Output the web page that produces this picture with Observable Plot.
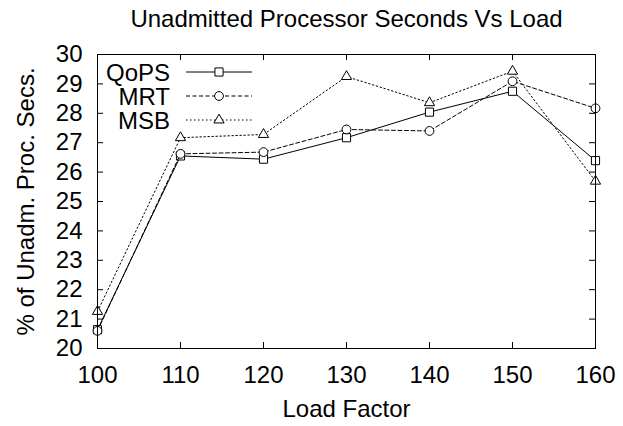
<!DOCTYPE html>
<html><head><meta charset="utf-8">
<script src="https://cdn.jsdelivr.net/npm/d3@7"></script>
<script src="https://cdn.jsdelivr.net/npm/@observablehq/plot@0.6"></script>
<style>body{margin:0;background:#fff}#chart{width:623px;height:426px}</style>
</head><body><div id="chart"></div>
<script>
const loads = [100, 110, 120, 130, 140, 150, 160];
const qops = [20.64, 26.55, 26.44, 27.17, 28.04, 28.75, 26.39];
const mrt  = [20.60, 26.62, 26.68, 27.45, 27.40, 29.09, 28.17];
const msb  = [21.26, 27.17, 27.28, 29.25, 28.36, 29.43, 25.69];
const seriesNames = ["QoPS", "MRT", "MSB"];
const xTicks = [100, 110, 120, 130, 140, 150, 160];
const yTicks = [20, 21, 22, 23, 24, 25, 26, 27, 28, 29, 30];
const titleText = "Unadmitted Processor Seconds Vs Load";
const xLabel = "Load Factor";
const yLabel = "% of Unadm. Proc. Secs.";

const styles = {
  QoPS: {dash: null, symbol: "square", r: 4.6},
  MRT: {dash: "4,2.5", symbol: "circle", r: 4.4},
  MSB: {dash: "1.5,2.5", symbol: "triangle", r: 3.8}
};
const valuesBy = {QoPS: qops, MRT: mrt, MSB: msb};
const rows = seriesNames.flatMap(s => loads.map((x, i) => ({series: s, x, y: valuesBy[s][i]})));

const font = "'Liberation Sans', Arial, Helvetica, sans-serif";
const FS = 24;
const W = 623, H = 426, mL = 97, mR = 28, mT = 54, mB = 78;
const fh = H - mT - mB, fw = W - mL - mR;
const tk = 6;

function legend(index, scales, values, dims) {
  const g = d3.create("svg:g").attr("font-family", font).attr("font-size", FS);
  seriesNames.forEach((s, i) => {
    const st = styles[s];
    const y = dims.marginTop + 18 + i * 24;
    const x0 = dims.marginLeft;
    g.append("text").attr("x", x0 + 73).attr("y", y).attr("dy", "0.36em")
      .attr("text-anchor", "end").attr("fill", "black").text(s);
    g.append("line").attr("x1", x0 + 89).attr("x2", x0 + 155).attr("y1", y).attr("y2", y)
      .attr("stroke", "black").attr("stroke-width", 1)
      .attr("stroke-dasharray", st.dash);
    const sym = {square: d3.symbolSquare, circle: d3.symbolCircle, triangle: d3.symbolTriangle}[st.symbol];
    g.append("path").attr("d", d3.symbol(sym, Math.PI * st.r * st.r)())
      .attr("transform", `translate(${x0 + 122},${y})`)
      .attr("fill", "white").attr("stroke", "black").attr("stroke-width", 1);
  });
  return g.node();
}

const marks = [
  Plot.ruleX(xTicks, {x: d => d, insetTop: fh - tk, stroke: "black"}),
  Plot.ruleX(xTicks, {x: d => d, insetBottom: fh - tk, stroke: "black"}),
  Plot.ruleY(yTicks, {y: d => d, insetRight: fw - tk, stroke: "black"}),
  Plot.ruleY(yTicks, {y: d => d, insetLeft: fw - tk, stroke: "black"}),
  Plot.axisX(xTicks, {tickSize: 0, tickPadding: 17, fontSize: FS, tickFormat: d => String(d), label: null}),
  Plot.axisY(yTicks, {tickSize: 0, tickPadding: 15, fontSize: FS, tickFormat: d => String(d), label: null})
];
seriesNames.forEach(s => {
  const st = styles[s];
  const data = rows.filter(d => d.series === s);
  marks.push(Plot.line(data, {x: "x", y: "y", stroke: "black", strokeWidth: 1, strokeDasharray: st.dash}));
  marks.push(Plot.dot(data, {x: "x", y: "y", symbol: () => st.symbol, r: st.r, stroke: "black", fill: "white", strokeWidth: 1}));
});
marks.push(Plot.frame({stroke: "black", strokeWidth: 1}));
marks.push(legend);
marks.push(Plot.text([titleText], {text: d => d, frameAnchor: "top", dy: -35.5, lineAnchor: "middle", textAnchor: "middle", fontSize: FS, fill: "black"}));
marks.push(Plot.text([xLabel], {text: d => d, frameAnchor: "bottom", dy: 60.5, lineAnchor: "middle", textAnchor: "middle", fontSize: FS, fill: "black"}));
marks.push(Plot.text([yLabel], {text: d => d, frameAnchor: "left", dx: -71, rotate: -90, lineAnchor: "middle", textAnchor: "middle", fontSize: FS, fill: "black"}));

const chart = Plot.plot({
  width: W, height: H,
  marginLeft: mL, marginRight: mR, marginTop: mT, marginBottom: mB,
  style: {fontFamily: font, background: "white", color: "black", overflow: "visible"},
  x: {domain: [100, 160]},
  y: {domain: [20, 30]},
  symbol: {type: "identity"},
  marks
});
document.getElementById("chart").appendChild(chart);
</script></body></html>
